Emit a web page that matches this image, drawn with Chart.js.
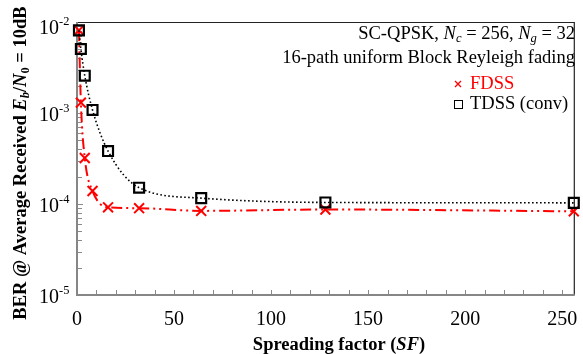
<!DOCTYPE html>
<html><head><meta charset="utf-8">
<script src="https://cdn.jsdelivr.net/npm/chart.js@4/dist/chart.umd.min.js"></script>
<style>html,body{margin:0;padding:0;background:#fff;} #wrap{width:583px;height:354px;position:relative;}</style>
</head><body><div id="wrap"><canvas id="c" width="583" height="354"></canvas></div>
<script>
const spreadingFactors = [1, 2, 4, 8, 16, 32, 64, 128, 256];
const fdssBer = [8.1e-3, 1.3e-3, 3.2e-4, 1.39e-4, 9.2e-5, 9.0e-5, 8.4e-5, 8.7e-5, 8.3e-5];
const tdssBer = [8.1e-3, 5.05e-3, 2.57e-3, 1.08e-3, 3.82e-4, 1.51e-4, 1.16e-4, 1.04e-4, 1.03e-4];
const xTickLabels = [0, 50, 100, 150, 200, 250];
const yTickExponents = [-2, -3, -4, -5];
const seriesNames = ['FDSS', 'TDSS (conv)'];

const SERIF = '"Liberation Serif", "Times New Roman", serif';

function font(s, bold, italic) {
  return (italic ? 'italic ' : '') + (bold ? 'bold ' : '') + s + 'px ' + SERIF;
}
function drawRich(ctx, segs, x, y, align, size) {
  ctx.save();
  ctx.textBaseline = 'middle';
  ctx.textAlign = 'left';
  let total = 0;
  const parts = segs.map(s => {
    const sz = (s.sub || s.sup) ? size * (s.scale || 0.68) : size;
    const f = font(sz, s.bold, s.italic);
    ctx.font = f;
    const w = ctx.measureText(s.t).width;
    total += w;
    return {s, f, w, dy: s.sub ? size * 0.28 : (s.sup ? -size * 0.38 : 0)};
  });
  let cx = align === 'right' ? x - total : (align === 'center' ? x - total / 2 : x);
  parts.forEach(p => {
    ctx.font = p.f;
    ctx.fillStyle = p.s.color || '#000';
    ctx.fillText(p.s.t, cx, y + p.dy);
    cx += p.w;
  });
  ctx.restore();
  return total;
}

const decor = {
  id: 'decor',
  beforeDatasetsDraw(chart) {
    const ctx = chart.ctx, a = chart.chartArea;
    const xs = chart.scales.x, ys = chart.scales.y;
    ctx.save();
    ctx.strokeStyle = '#8a8a8a';
    ctx.lineWidth = 1;
    for (let v = 0; v <= 250; v += 10) {
      const px = Math.round(xs.getPixelForValue(v)) + 0.5;
      ctx.beginPath(); ctx.moveTo(px, a.bottom); ctx.lineTo(px, a.bottom - 5); ctx.stroke();
    }
    yTickExponents.forEach(e => {
      const base = Math.pow(10, e);
      const py = Math.round(ys.getPixelForValue(base)) + 0.5;
      ctx.beginPath(); ctx.moveTo(a.left, py); ctx.lineTo(a.left + 6, py); ctx.stroke();
      if (e > -5) {
        for (let m = 2; m <= 9; m++) {
          const v = base * m / 10;
          const q = Math.round(ys.getPixelForValue(v)) + 0.5;
          ctx.beginPath(); ctx.moveTo(a.left, q); ctx.lineTo(a.left + 5, q); ctx.stroke();
        }
      }
    });
    ctx.strokeStyle = '#222';
    ctx.lineWidth = 1.2;
    ctx.beginPath();
    ctx.moveTo(a.left, a.top + 0.5); ctx.lineTo(a.right + 0.5, a.top + 0.5); ctx.lineTo(a.right + 0.5, a.bottom);
    ctx.stroke();
    ctx.strokeStyle = '#868686';
    ctx.lineWidth = 2;
    ctx.beginPath();
    ctx.moveTo(a.left, a.top); ctx.lineTo(a.left, a.bottom); ctx.lineTo(a.right + 1, a.bottom);
    ctx.stroke();
    ctx.restore();
  },
  afterDraw(chart) {
    const ctx = chart.ctx, a = chart.chartArea;
    const xs = chart.scales.x, ys = chart.scales.y;
    ctx.save();
    ctx.fillStyle = '#000';
    ctx.font = font(20, false, false);
    ctx.textAlign = 'center';
    ctx.textBaseline = 'middle';
    xTickLabels.forEach(v => {
      ctx.fillText(String(v), xs.getPixelForValue(v), 320);
    });
    ctx.restore();
    yTickExponents.forEach(e => {
      let py = ys.getPixelForValue(Math.pow(10, e)) + 3;
      if (e === -2) py += 4;
      drawRich(ctx, [{t: '10'}, {t: String(e), sup: true, scale: 0.62}], 39, py, 'left', 20);
    });
    drawRich(ctx, [
      {t: 'Spreading factor (', bold: true},
      {t: 'SF', bold: true, italic: true},
      {t: ')', bold: true}
    ], 339, 345, 'center', 18.5);
    ctx.save();
    ctx.translate(21, 163);
    ctx.rotate(-Math.PI / 2);
    drawRich(ctx, [
      {t: 'BER @ Average Received ', bold: true},
      {t: 'E', bold: true, italic: true},
      {t: 'b', bold: true, italic: true, sub: true},
      {t: '/', bold: true},
      {t: 'N', bold: true, italic: true},
      {t: '0', bold: true, sub: true},
      {t: ' = 10dB', bold: true}
    ], 0, 0, 'center', 18.5);
    ctx.restore();
    drawRich(ctx, [
      {t: 'SC-QPSK, '}, {t: 'N', italic: true}, {t: 'c', italic: true, sub: true},
      {t: ' = 256, '}, {t: 'N', italic: true}, {t: 'g', italic: true, sub: true}, {t: ' = 32'}
    ], 575, 34, 'right', 18.5);
    drawRich(ctx, [{t: '16-path uniform Block Reyleigh fading'}], 575, 58, 'right', 18.5);
    ctx.save();
    ctx.strokeStyle = '#ff0000'; ctx.lineWidth = 1.3;
    const lx = 458, ly1 = 84, ly2 = 104, r = 3;
    ctx.beginPath();
    ctx.moveTo(lx - r, ly1 - r); ctx.lineTo(lx + r, ly1 + r);
    ctx.moveTo(lx + r, ly1 - r); ctx.lineTo(lx - r, ly1 + r);
    ctx.stroke();
    ctx.strokeStyle = '#000'; ctx.lineWidth = 1;
    ctx.strokeRect(lx - 4 + 0.5, ly2 - 4 + 0.5, 8, 8);
    ctx.restore();
    drawRich(ctx, [{t: seriesNames[0], color: '#ff0000'}], 470, ly1, 'left', 18.5);
    drawRich(ctx, [{t: seriesNames[1]}], 470, ly2, 'left', 18.5);
  }
};

new Chart(document.getElementById('c'), {
  type: 'line',
  data: {
    datasets: [
      {
        label: seriesNames[1],
        data: spreadingFactors.map((x, i) => ({x, y: tdssBer[i]})),
        borderColor: '#000',
        borderWidth: 1.6,
        borderDash: [1.6, 2.4],
        cubicInterpolationMode: 'monotone',
        pointStyle: 'rect',
        pointRadius: 7,
        pointBorderWidth: 2.2,
        pointBorderColor: '#000',
        pointBackgroundColor: 'rgba(0,0,0,0)',
        fill: false,
        clip: false
      },
      {
        label: seriesNames[0],
        data: spreadingFactors.map((x, i) => ({x, y: fdssBer[i]})),
        borderColor: '#ff0000',
        borderWidth: 2,
        borderDash: [11, 4, 2, 4, 2, 4],
        cubicInterpolationMode: 'monotone',
        pointStyle: 'crossRot',
        pointRadius: 7,
        pointBorderWidth: 2,
        pointBorderColor: '#ff0000',
        pointBackgroundColor: 'rgba(0,0,0,0)',
        fill: false,
        clip: false
      }
    ]
  },
  options: {
    responsive: false,
    animation: false,
    devicePixelRatio: 1,
    layout: {padding: {left: 77, top: 22, right: 6, bottom: 59}},
    scales: {
      x: {type: 'linear', min: 0, max: 256, display: false},
      y: {type: 'logarithmic', min: 1e-5, max: 1e-2, display: false}
    },
    plugins: {legend: {display: false}, tooltip: {enabled: false}}
  },
  plugins: [decor]
});
</script>
</body></html>
